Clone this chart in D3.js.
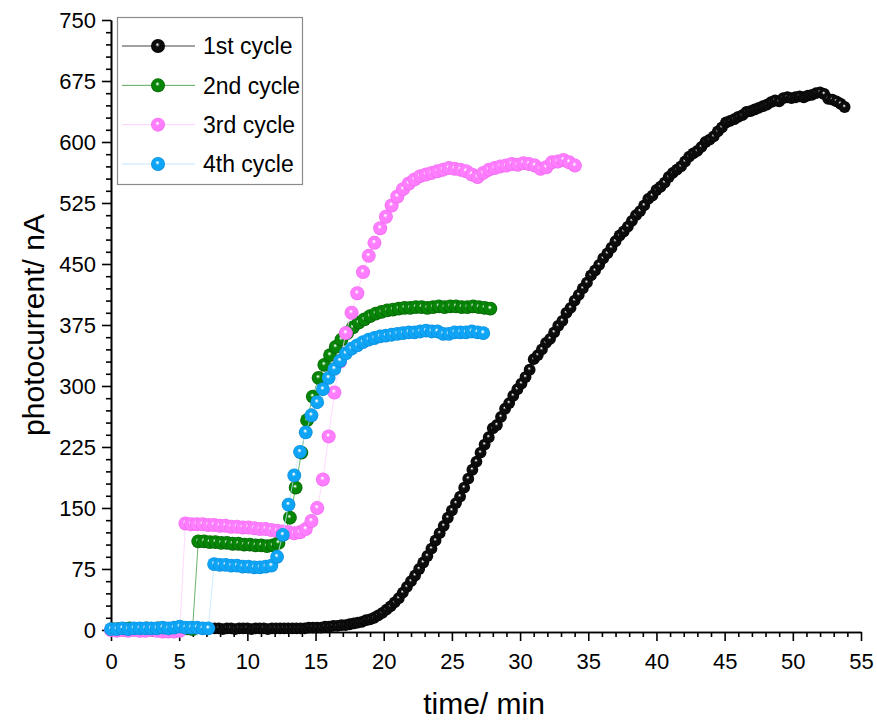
<!DOCTYPE html>
<html>
<head>
<meta charset="utf-8">
<script src="https://cdn.jsdelivr.net/npm/d3@7"></script>
<style>
  html, body { margin: 0; padding: 0; background: #fff; }
  svg { display: block; font-family: "Liberation Sans", Arial, sans-serif; }
</style>
</head>
<body>
<svg id="chart" width="877" height="722"></svg>
<script>
// ---- data -------------------------------------------------------------
const seriesNames = ["1st cycle", "2nd cycle", "3rd cycle", "4th cycle"];
// time of first sample (min) and sampling interval (min) for each cycle
const startTimes = [7.6, 0.1, 0, 0];
const sampleSteps = [0.3, 0.42, 0.42, 0.42];

// photocurrent (nA), one value per sample
const cycle1 = [
  2, 2, 1, 2, 2, 1, 2, 2, 2, 1, 2, 2, 2, 1, 2, 2, 2, 2, 2, 2,
  2, 2, 2, 3, 3, 3, 3, 4, 4, 5, 5, 6, 6, 7, 8, 9, 10, 12, 13, 15,
  18, 21, 25, 29, 34, 39, 46, 53, 60, 67, 75, 83, 91, 100, 110, 119, 128, 138, 147, 156,
  164, 175, 186, 197, 207, 218, 228, 237, 248, 252, 262, 272, 279, 288, 296, 303, 311, 320, 333, 338,
  345, 353, 358, 366, 374, 380, 390, 396, 405, 412, 420, 427, 436, 442, 449, 457, 463, 470, 478, 485,
  490, 496, 503, 510, 515, 522, 530, 534, 541, 545, 550, 557, 562, 566, 570, 576, 582, 586, 589, 594,
  600, 603, 607, 613, 618, 624, 626, 628, 631, 633, 637, 638, 640, 642, 644, 646, 649, 651, 650, 654,
  655, 654, 655, 656, 655, 657, 658, 660, 661, 659, 653, 652, 650, 647, 643
];
const cycle2 = [
  1, 1, 1, 2, 1, 1, 2, 1, 2, 2, 1, 2, 2, 2, 1,
  109, 109, 108, 108, 107, 107, 106, 106, 105, 105, 104, 104, 103, 104, 107,
  118, 138, 175, 218, 258, 287, 310, 326, 338, 348, 357, 365, 372, 378, 382,
  386, 389, 391, 393, 394, 395, 396, 396, 397, 397, 396, 397, 398, 397, 398,
  398, 397, 397, 398, 397, 396, 395
];
const cycle3 = [
  0, -1, 0, -1, 0, -1, -1, 0, -1, -2, -2, -2, -1,
  131, 130, 130, 130, 129, 129, 128, 128, 127, 127, 126, 126, 125, 124, 124,
  123, 122, 121, 120, 119, 120, 124, 134, 150, 185, 238, 292, 330, 365, 390,
  414, 440, 460, 476, 494, 508, 522, 533, 542, 549, 554, 558, 560, 562, 564,
  566, 568, 567, 566, 564, 560, 557, 562, 566, 568, 570, 571, 573, 572, 574,
  573, 571, 567, 569, 575, 576, 578, 575, 571
];
const cycle4 = [
  1, 1, 2, 1, 2, 2, 2, 2, 2, 3, 2, 3, 4, 3, 3, 3, 2, 2,
  81, 80, 80, 79, 79, 78, 78, 77, 77, 78, 79,
  90, 117, 154, 190, 219, 243, 264, 280, 296, 310, 321, 331, 340, 346, 350,
  354, 357, 359, 361, 362, 363, 364, 365, 366, 366, 367, 368, 367, 367, 364,
  364, 366, 366, 366, 367, 366, 365
];

const xTicks = [0, 5, 10, 15, 20, 25, 30, 35, 40, 45, 50, 55];
const yTicks = [0, 75, 150, 225, 300, 375, 450, 525, 600, 675, 750];

// ---- styling ----------------------------------------------------------
const palette = [
  { base: "#0c0c0c", mid: "#6a6a6a", light: "#e8e8e8", edge: "#000000", line: "#444444", lw: 1, r: 5.9 },
  { base: "#078507", mid: "#6cbc6c", light: "#f0fff0", edge: "#035c03", line: "#5aa85a", lw: 0.9, r: 6.9 },
  { base: "#ff7dff", mid: "#ffc0ff", light: "#ffffff", edge: "#ee68ee", line: "#ffd0ff", lw: 0.8, r: 7 },
  { base: "#0fa5f7", mid: "#86d2ff", light: "#ffffff", edge: "#0a8ad8", line: "#c0e6ff", lw: 0.8, r: 6.9 }
];

const plot = { left: 111, right: 861, top: 20, bottom: 632 };

const svg = d3.select("#chart");

const x = d3.scaleLinear().domain([0, 55]).range([plot.left, plot.right]);
const y = d3.scaleLinear().domain([-2.5, 750]).range([plot.bottom, plot.top]);

// sphere-like gradients for markers: tiny specular spot, solid body
const defs = svg.append("defs");
palette.forEach((p, i) => {
  const g = defs.append("radialGradient")
    .attr("id", "ball" + i)
    .attr("cx", "50%").attr("cy", "50%").attr("r", "50%")
    .attr("fx", "45%").attr("fy", "38%");
  g.append("stop").attr("offset", "0%").attr("stop-color", p.light);
  g.append("stop").attr("offset", "6%").attr("stop-color", p.light);
  g.append("stop").attr("offset", "18%").attr("stop-color", p.mid);
  g.append("stop").attr("offset", "32%").attr("stop-color", p.base);
  g.append("stop").attr("offset", "82%").attr("stop-color", p.base);
  g.append("stop").attr("offset", "100%").attr("stop-color", p.edge);
});

// ---- axes -------------------------------------------------------------
const xMinor = d3.range(0, 55.001, 1).filter(v => v % 5 !== 0);
const yMinor = d3.range(0, 750.001, 15).filter(v => v % 75 !== 0);

function styleAxis(g) {
  g.selectAll("path.domain").attr("stroke", "#000").attr("stroke-width", 1.6);
  g.selectAll(".tick line").attr("stroke", "#000").attr("stroke-width", 1.6);
  g.selectAll(".tick text")
    .attr("fill", "#000")
    .style("font-family", '"Liberation Sans", Arial, sans-serif')
    .style("font-size", "22px");
}

svg.append("g")
  .attr("transform", `translate(0,${plot.bottom})`)
  .call(d3.axisBottom(x).tickValues(xMinor).tickSize(5).tickFormat("").tickSizeOuter(0))
  .call(styleAxis);
svg.append("g")
  .attr("transform", `translate(0,${plot.bottom})`)
  .call(d3.axisBottom(x).tickValues(xTicks).tickSize(9).tickPadding(12).tickSizeOuter(0))
  .call(styleAxis);

svg.append("g")
  .attr("transform", `translate(${plot.left},0)`)
  .call(d3.axisLeft(y).tickValues(yMinor).tickSize(5).tickFormat("").tickSizeOuter(0))
  .call(styleAxis);
svg.append("g")
  .attr("transform", `translate(${plot.left},0)`)
  .call(d3.axisLeft(y).tickValues(yTicks).tickSize(9).tickPadding(6).tickSizeOuter(0))
  .call(styleAxis);

// axis titles
svg.append("text")
  .attr("x", (plot.left + plot.right) / 2 - 2)
  .attr("y", 714)
  .attr("text-anchor", "middle")
  .style("font-size", "30px")
  .text("time/ min");
svg.append("text")
  .attr("transform", `translate(44,${(plot.top + plot.bottom) / 2 - 1}) rotate(-90)`)
  .attr("text-anchor", "middle")
  .style("font-size", "30px")
  .text("photocurrent/ nA");

// ---- series -----------------------------------------------------------
const allCycles = [cycle1, cycle2, cycle3, cycle4];
const line = d3.line().x(d => x(d.t)).y(d => y(d.v));

allCycles.forEach((vals, i) => {
  const pts = vals.map((v, k) => ({ t: startTimes[i] + k * sampleSteps[i], v }));
  const g = svg.append("g").attr("class", "series s" + i);
  g.append("path")
    .datum(pts)
    .attr("d", line)
    .attr("fill", "none")
    .attr("stroke", palette[i].line)
    .attr("stroke-width", palette[i].lw);
  g.selectAll("circle")
    .data(pts)
    .join("circle")
    .attr("cx", d => x(d.t))
    .attr("cy", d => y(d.v))
    .attr("r", palette[i].r)
    .attr("fill", `url(#ball${i})`);
});

// ---- legend -----------------------------------------------------------
const legend = svg.append("g").attr("class", "legend");
legend.append("rect")
  .attr("x", 117.5).attr("y", 17.5)
  .attr("width", 185).attr("height", 167)
  .attr("fill", "#fff")
  .attr("stroke", "#8a8a8a")
  .attr("stroke-width", 1.2);

const legendRowY = d3.scalePoint().domain(seriesNames).range([46, 164]);
seriesNames.forEach((name, i) => {
  const cy = legendRowY(name);
  legend.append("line")
    .attr("x1", 122).attr("x2", 195)
    .attr("y1", cy).attr("y2", cy)
    .attr("stroke", palette[i].line)
    .attr("stroke-width", 1);
  legend.append("circle")
    .attr("cx", 158).attr("cy", cy)
    .attr("r", 7)
    .attr("fill", `url(#ball${i})`);
  legend.append("text")
    .attr("x", 203).attr("y", cy)
    .attr("dy", "0.36em")
    .style("font-size", "23px")
    .text(name);
});
</script>
</body>
</html>
